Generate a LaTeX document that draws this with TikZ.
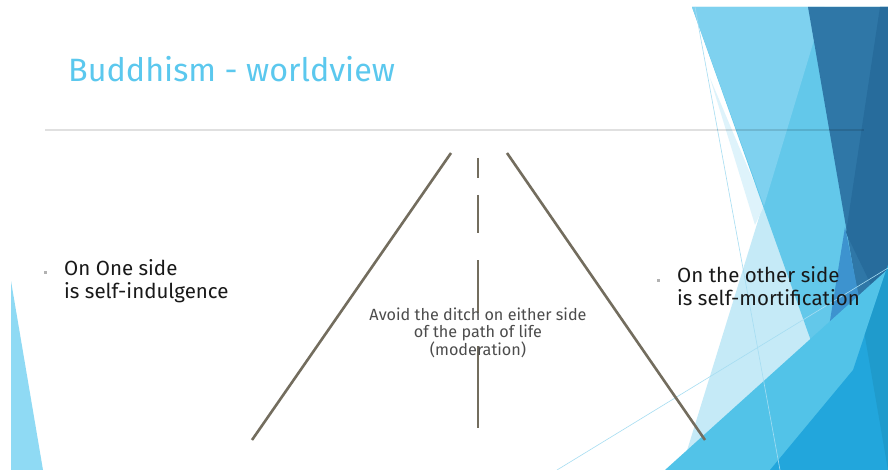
\documentclass[tikz,border=0pt]{standalone}
\usepackage{fontspec}
\setmainfont{Fira Sans}
\usetikzlibrary{positioning, calc}

\definecolor{facetpale}{HTML}{C5EAF7}
\definecolor{facetfaint}{HTML}{DEF3FB}
\definecolor{facetmid}{HTML}{63C8EA}
\definecolor{facetlight}{HTML}{7ED1EF}
\definecolor{facetdark}{HTML}{2F77A7}
\definecolor{facetdarker}{HTML}{276C9C}
\definecolor{facetsteel}{HTML}{3D93CF}
\definecolor{facetsky}{HTML}{52C3E8}
\definecolor{facetbright}{HTML}{22A6DC}
\definecolor{facetdeep}{HTML}{1F9BCC}
\definecolor{facetleft}{HTML}{8FDAF4}
\definecolor{facetthin}{HTML}{A6DDF2}
\definecolor{titleblue}{HTML}{5BC8EE}
\definecolor{roadgrey}{HTML}{736D5E}

\begin{document}
\begin{tikzpicture}[x=1pt, y=-1pt,
		road/.style={draw=roadgrey, line width=2.6pt},
		sidetext/.style={anchor=base west, align=left, inner sep=0pt, text=black!90, font=\fontsize{20.5}{23}\selectfont},
		bulletmark/.style={fill=black!30, inner sep=0pt, minimum size=3pt},
		advicetext/.style={anchor=base, align=center, inner sep=0pt, text=black!70, font=\fontsize{16.2}{17.5}\selectfont}
	]
		\useasboundingbox (0,0) rectangle (888,470);
		\fill[white] (0,0) rectangle (888,470);
		
		% facets on the right
		\fill[facetpale] (824,7) -- (681,470) -- (888,470) -- (888,7) -- cycle;
		\fill[facetfaint] (710,78) -- (764,206) -- (755,225) -- cycle;
		\fill[facetmid] (692,7) -- (888,7) -- (888,470) -- (857,470) -- cycle;
		\fill[facetlight] (692,7) -- (824,7) -- (764,206) -- cycle;
		\fill[facetdark] (808,7) -- (888,7) -- (888,470) -- cycle;
		\fill[facetdarker] (880,7) -- (888,7) -- (888,320) -- (846,233) -- cycle;
		\fill[facetsteel] (845,227) -- (862,312) -- (820,383) -- cycle;
		\fill[facetsky] (665,470) -- (888,269) -- (888,470) -- cycle;
		\fill[facetbright] (770,470) -- (853,370) -- (888,265) -- (888,470) -- cycle;
		\begin{scope}
			\clip (808,7) -- (888,7) -- (888,470) -- cycle;
			\fill[facetdeep] (770,470) -- (853,370) -- (888,265) -- (888,470) -- cycle;
		\end{scope}
		\draw[facetthin, line width=0.6pt] (695,7) -- (780,470);
		\draw[facetthin, line width=0.6pt] (557,470) -- (888,268);
		
		% facet on the left
		\fill[facetleft] (11,281) -- (43,470) -- (11,470) -- cycle;
		
		\node[anchor=base west, inner sep=0pt, text=titleblue, font=\fontsize{32.3}{36}\selectfont] (title) at (68,82) {Buddhism - worldview};
		\coordinate (rule-l) at (45,130);
		\coordinate (rule-r) at (864,130);
		\draw[black, opacity=0.12, line width=1.6pt] (rule-l) -- (rule-r);
		
		% the road
		\coordinate (lt) at (451,153);
		\coordinate (lb) at (252,440);
		\coordinate (rt) at (507,153);
		\coordinate (rb) at (705,440);
		\draw[road] (lt) -- (lb);
		\draw[road] (rt) -- (rb);
		\foreach \a/\b in {158/178, 195/233, 260/313, 346/428}
			\draw[road] (478,\a) -- (478,\b);
		
		% base anchor sits on the last line
		\node[bulletmark] (lmark) at (45,272) {};
		\node[sidetext] (ltext) at (64,298) {On One side\\is self-indulgence};
		\node[bulletmark] (rmark) at (658,280) {};
		\node[sidetext] (rtext) at (677,305) {On the other side\\is self-mortification};
		
		\node[advicetext] (advice) at (478,355) {Avoid the ditch on either side\\of the path of life\\(moderation)};
	\end{tikzpicture}
\end{document}
